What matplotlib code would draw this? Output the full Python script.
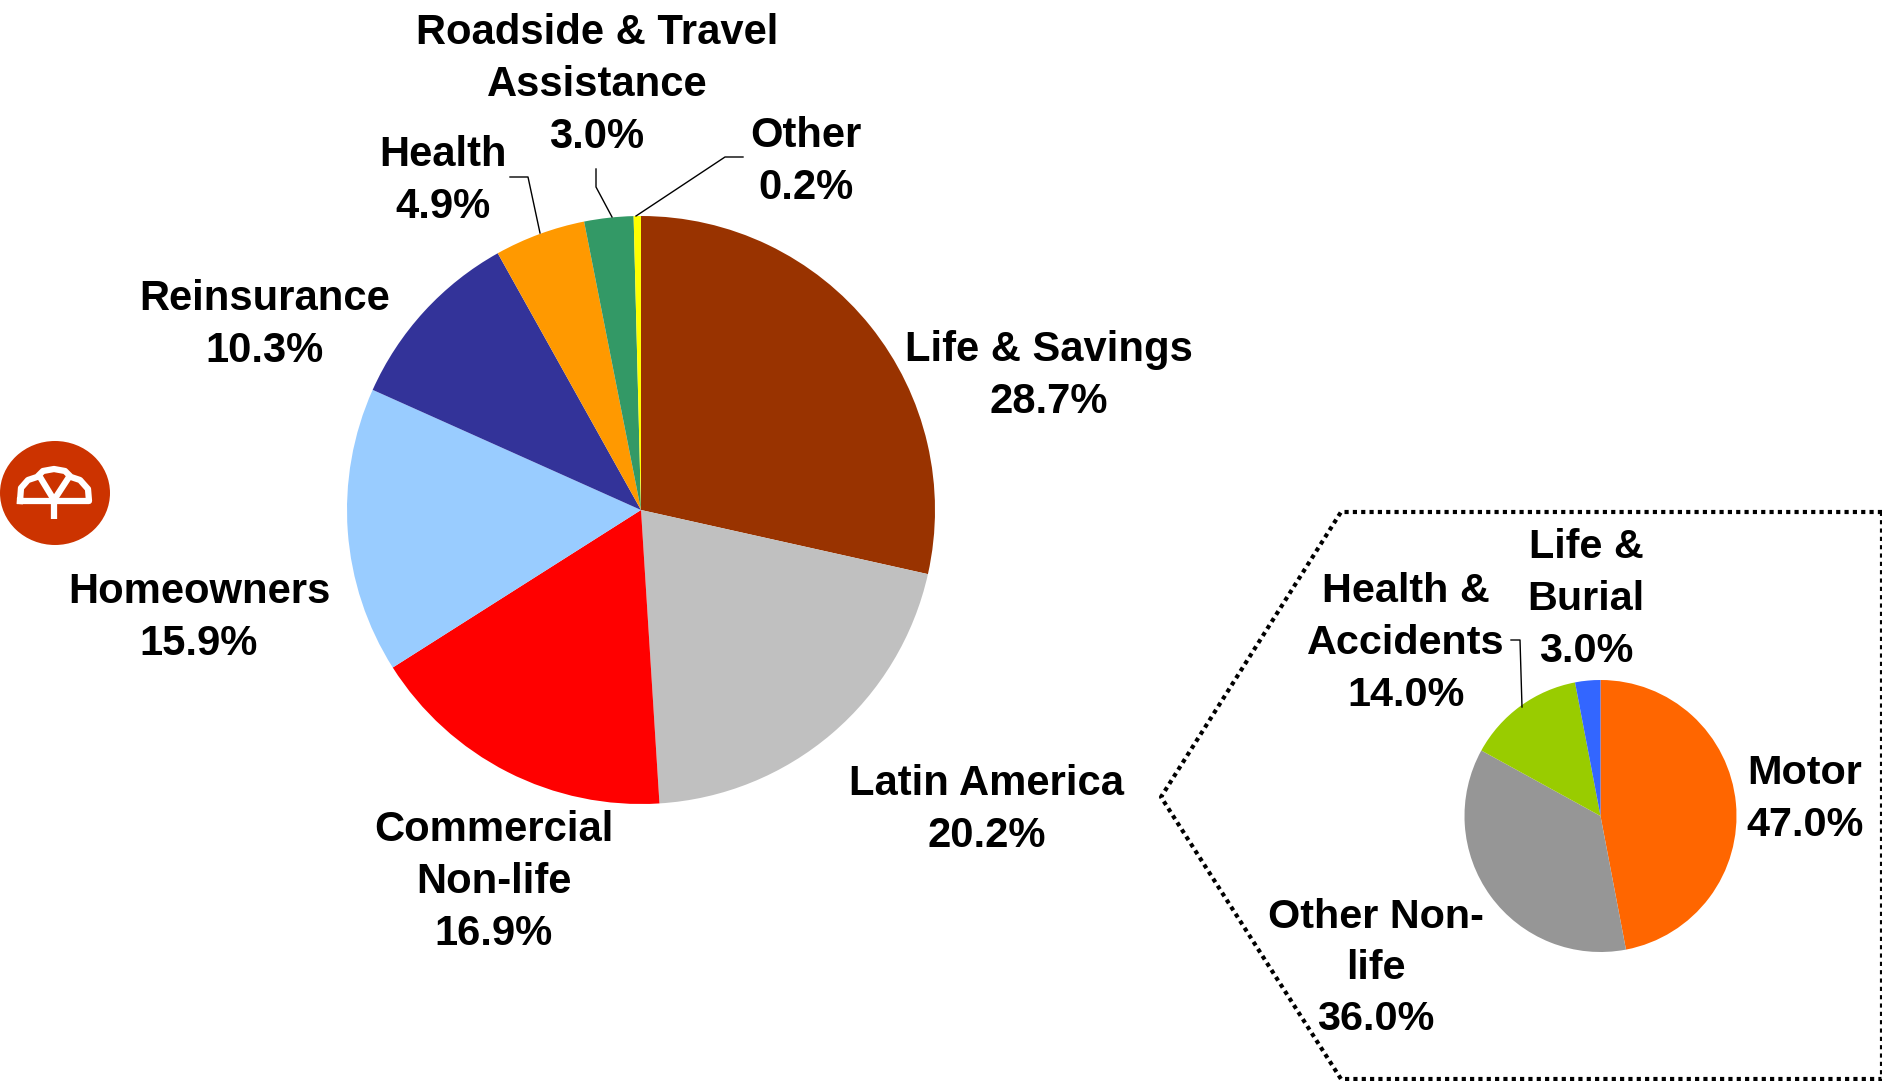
import matplotlib
matplotlib.use("Agg")
import matplotlib.pyplot as plt
from matplotlib.patches import Ellipse

W = 1883
H = 1081

# Main pie, clockwise from the top
main_labels = ["Life & Savings\n28.7%", "Latin America\n20.2%", "Commercial\nNon-life\n16.9%",
               "Homeowners\n15.9%", "Reinsurance\n10.3%", "Health\n4.9%",
               "Roadside & Travel\nAssistance\n3.0%", "Other\n0.2%"]
# slice sizes as measured on the picture, they differ a little from the printed labels
main_values = [28.5, 20.5, 17.0, 15.7, 10.2, 5.0, 2.7, 0.4]
main_colors = ["#993300", "#C0C0C0", "#FF0000", "#99CCFF", "#333399", "#FF9900", "#339966", "#FFFF00"]
main_label_pos = [(1049, 376), (987, 810), (494, 882), (199, 618), (265, 325), (443, 181), (597, 85), (806, 162)]

# Small pie
small_labels = ["Motor\n47.0%", "Other Non-\nlife\n36.0%", "Health &\nAccidents\n14.0%", "Life &\nBurial\n3.0%"]
small_values = [47.0, 36.0, 14.0, 3.0]
small_colors = ["#FF6600", "#969696", "#99CC00", "#3366FF"]
small_label_pos = [(1805, 799), (1376, 968), (1406, 643), (1586, 599)]


# The reference positions are read in pixels from the top left
def flip(points):
    return [p[0] for p in points], [H - p[1] for p in points]


fig = plt.figure(figsize=(W / 100, H / 100), dpi=100)
ax = fig.add_axes([0, 0, 1, 1])

ax.pie(main_values, colors=main_colors, center=(641, H - 510), radius=294, startangle=90,
       counterclock=False, wedgeprops={"linewidth": 0})
ax.pie(small_values, colors=small_colors, center=(1600.5, H - 816), radius=136, startangle=90,
       counterclock=False, wedgeprops={"linewidth": 0})

ax.set_xlim(0, W)
ax.set_ylim(0, H)
ax.set_aspect("equal")
ax.axis("off")

for label, pos in zip(main_labels, main_label_pos):
    ax.text(pos[0], H - pos[1], label, ha="center", va="center", fontsize=30.1, fontweight="bold",
            family="Liberation Sans", linespacing=1.4, color="black")

for label, pos in zip(small_labels, small_label_pos):
    ax.text(pos[0], H - pos[1], label, ha="center", va="center", fontsize=29.8, fontweight="bold",
            family="Liberation Sans", linespacing=1.45, color="black")

# Leader lines
leaders = [
    [(510, 177), (528, 177), (540, 233)],
    [(596, 169), (596, 187), (612, 217)],
    [(743, 157), (725, 157), (636, 216)],
    [(1511, 640), (1520, 640), (1522, 707)],
]
for leader in leaders:
    xs, ys = flip(leader)
    ax.plot(xs, ys, color="black", linewidth=1)

# Dotted box around the small pie
xs, ys = flip([(1882, 512), (1341, 512), (1161, 797), (1341, 1079), (1882, 1079), (1882, 512)])
ax.plot(xs, ys, color="black", linewidth=3, linestyle=(0, (1, 1)))

# Logo
ax.add_patch(Ellipse((55, H - 493), 110, 104, color="#CC3300", linewidth=0))
xs, ys = flip([(54, 519), (54, 501)])
ax.plot(xs, ys, color="white", linewidth=4.5, solid_capstyle="butt")
xs, ys = flip([(20, 501), (89, 501), (88, 489), (80, 480), (71, 477), (65, 471), (54, 469),
               (43, 471), (37, 477), (28, 480), (21, 488), (20, 501)])
ax.plot(xs, ys, color="white", linewidth=4.5)
xs, ys = flip([(40, 477), (54, 500), (69, 477)])
ax.plot(xs, ys, color="white", linewidth=4.5)

fig.savefig("out.png", dpi=100, facecolor="white")
